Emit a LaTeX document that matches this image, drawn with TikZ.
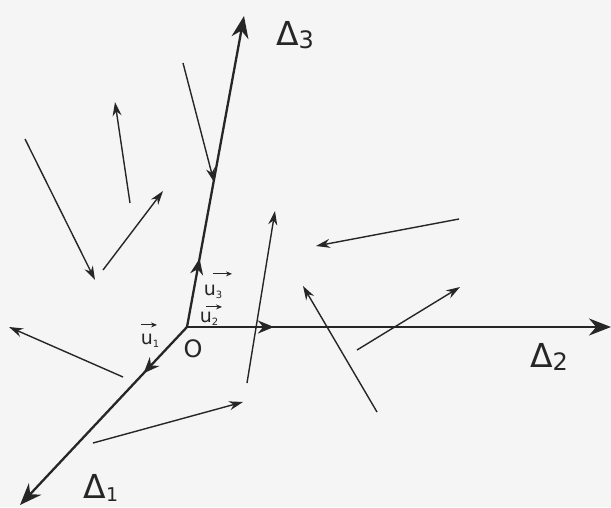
\documentclass[tikz,border=0pt]{standalone}
\usepackage{fontspec}
\setmainfont{DejaVu Sans}
\usetikzlibrary{arrows.meta,decorations.markings}
\tikzset{
  axis/.style={line width=2.3pt,-{Stealth[length=22pt,width=17pt]},
    postaction={decorate},
    decoration={markings,mark=at position #1 with {\arrow{Stealth[length=16pt,width=13pt]}}}},
  free/.style={line width=1.4pt,-{Stealth[length=14pt,width=9pt]}},
  tiny/.style={line width=0.9pt,-{Stealth[length=6pt,width=5pt]}},
  lbl/.style={inner sep=0pt,font=\fontsize{33}{35}\selectfont},
  ulbl/.style={inner sep=0pt,font=\fontsize{19}{21}\selectfont}
}
\begin{document}
\begin{tikzpicture}[x=1pt,y=-1pt,color=black!85]
\fill[white!92!gray] (0,0) rectangle (611,507);
\useasboundingbox (0,0) rectangle (611,507);
% axes
\coordinate (O) at (187,327);
\coordinate (E1) at (20,505);
\coordinate (E2) at (611,327);
\coordinate (E3) at (244,16);
\draw[axis=0.26] (O) -- (E1);
\draw[axis=0.205] (O) -- (E2);
\draw[axis=0.22] (O) -- (E3);
% labels
\node[lbl] (d3) at (295,35) {Δ\raisebox{-0.15ex}{\fontsize{24}{26}\selectfont 3}};
\node[lbl] (d2) at (549,357) {Δ\raisebox{-0.15ex}{\fontsize{24}{26}\selectfont 2}};
\node[lbl] (d1) at (101,488) {Δ\raisebox{-0.15ex}{\fontsize{19}{20}\selectfont 1}};
\node[lbl,font=\fontsize{24}{26}\selectfont] (o) at (193,349) {O};
\node[ulbl] (u1) at (150,341) {u\raisebox{-0.3ex}{\fontsize{10}{11}\selectfont 1}};
\node[ulbl] (u2) at (209,319) {u\raisebox{-0.3ex}{\fontsize{10}{11}\selectfont 2}};
\node[ulbl] (u3) at (213,292) {u\raisebox{-0.3ex}{\fontsize{10}{11}\selectfont 3}};
\draw[tiny] ([xshift=-9pt,yshift=9pt]u1.north) -- ([xshift=7pt,yshift=9pt]u1.north);
\draw[tiny] ([xshift=-3pt,yshift=5pt]u2.north) -- ([xshift=13pt,yshift=5pt]u2.north);
\draw[tiny] ([xshift=0pt,yshift=11pt]u3.north) -- ([xshift=19pt,yshift=11pt]u3.north);
% free vectors
\coordinate (a1) at (25,139);  \coordinate (b1) at (95,280);
\coordinate (a2) at (130,203); \coordinate (b2) at (115,102);
\coordinate (a3) at (103,270); \coordinate (b3) at (163,191);
\coordinate (a4) at (183,63);  \coordinate (b4) at (214,182);
\coordinate (a5) at (247,383); \coordinate (b5) at (275,211);
\coordinate (a6) at (459,219); \coordinate (b6) at (316,246);
\coordinate (a7) at (377,412); \coordinate (b7) at (303,286);
\coordinate (a8) at (357,350); \coordinate (b8) at (460,287);
\coordinate (a9) at (123,377); \coordinate (b9) at (9,327);
\coordinate (a10) at (93,443); \coordinate (b10) at (243,402);
\foreach \i in {1,...,10} \draw[free] (a\i) -- (b\i);
\end{tikzpicture}
\end{document}
